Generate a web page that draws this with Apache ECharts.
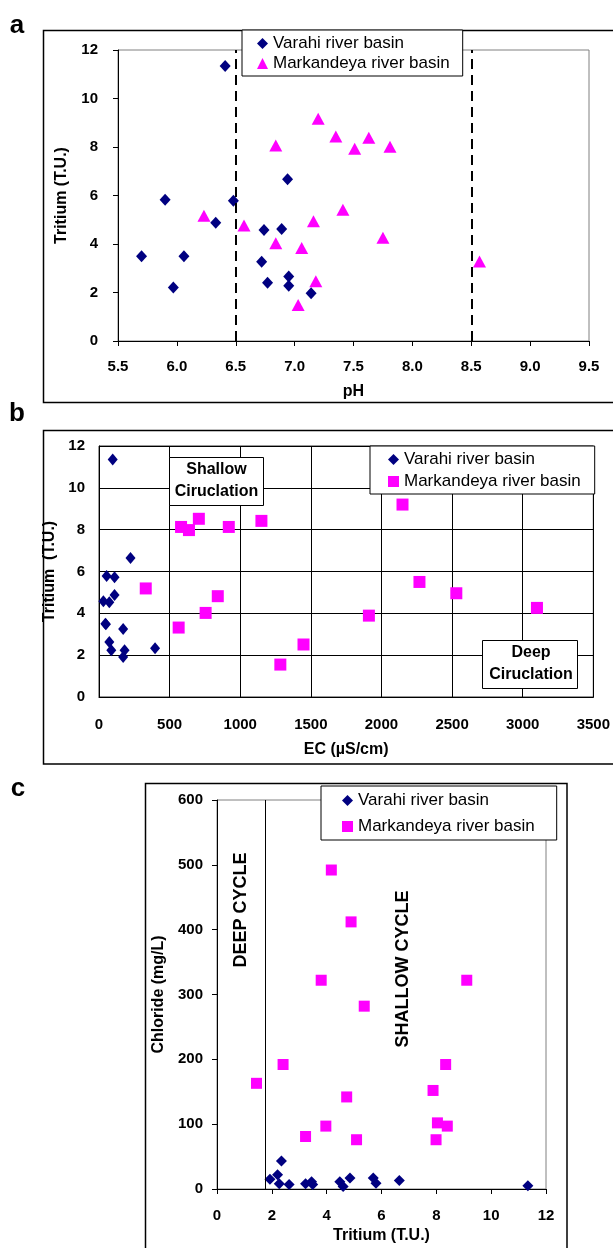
<!DOCTYPE html>
<html>
<head>
<meta charset="utf-8">
<script src="https://cdn.jsdelivr.net/npm/echarts@6/dist/echarts.min.js"></script>
<style>
html,body{margin:0;padding:0;background:#fff;}
#chart{width:613px;height:1248px;}
</style>
</head>
<body>
<div id="chart"></div>
<script>
// ---------- names ----------
const seriesNames = ['Varahi river basin', 'Markandeya river basin'];
const panelLabels = ['a', 'b', 'c'];

// ---------- panel a : pH vs Tritium ----------
const aVarahiPH = [5.90, 6.48, 6.33, 5.70, 6.06, 5.97, 6.74, 6.89, 6.72, 6.77, 6.95, 6.95, 7.14, 6.94, 6.41];
const aVarahiT  = [5.82, 5.78, 4.88, 3.50, 3.50, 2.21, 4.58, 4.62, 3.27, 2.40, 2.66, 2.28, 1.97, 6.67, 11.34];
const aMarkPH   = [6.23, 6.57, 6.84, 7.06, 7.16, 7.41, 7.75, 7.18, 7.03, 8.57, 6.84, 7.20, 7.35, 7.51, 7.63, 7.81];
const aMarkT    = [5.16, 4.76, 4.03, 3.83, 4.94, 5.41, 4.26, 2.46, 1.48, 3.28, 8.06, 9.17, 8.43, 7.93, 8.38, 8.01];
const phLimits  = [6.5, 8.5];
const aXRange   = [5.5, 9.5, 0.5];   // min, max, interval
const aYRange   = [0, 12, 2];

// ---------- panel b : EC vs Tritium ----------
const bVarahiEC = [97, 223, 54, 110, 31, 73, 110, 49, 45, 171, 73, 87, 181, 171, 397];
const bVarahiT  = [11.36, 6.64, 5.78, 5.73, 4.58, 4.53, 4.88, 3.48, 3.50, 3.25, 2.63, 2.23, 2.23, 1.91, 2.33];
const bMarkEC   = [331, 581, 637, 707, 919, 1150, 564, 755, 841, 1284, 1448, 2149, 2269, 2530, 3101, 1911];
const bMarkT    = [5.19, 8.13, 7.98, 8.52, 8.13, 8.42, 3.32, 4.02, 4.82, 1.55, 2.51, 9.20, 5.50, 4.96, 4.26, 3.89];
const bXRange   = [0, 3500, 500];
const bYRange   = [0, 12, 2];
const bNotes    = ['Shallow\nCiruclation', 'Deep\nCiruclation'];

// ---------- panel c : Tritium vs Chloride ----------
const cVarahiT  = [1.93, 2.21, 2.27, 2.35, 2.63, 3.23, 3.45, 3.49, 4.48, 4.60, 4.85, 5.70, 5.80, 6.65, 11.34];
const cVarahiCl = [15, 22, 8, 43, 7, 8, 11, 7, 11, 4, 17, 17, 9, 13, 5];
const cMarkT    = [1.44, 2.41, 3.23, 3.97, 4.73, 5.09, 5.37, 7.88, 8.04, 7.99, 8.34, 8.40, 4.17, 4.89, 3.80, 9.11];
const cMarkCl   = [163, 192, 81, 97, 142, 76, 282, 152, 102, 76, 192, 97, 492, 412, 322, 322];
const deepCycleLimit = [1.75];
const cXRange   = [0, 12, 2];
const cYRange   = [0, 600, 100];
const cNotes    = ['DEEP CYCLE', 'SHALLOW CYCLE'];

const axisTitles = {
  aX: 'pH', aY: 'Tritium (T.U.)',
  bX: 'EC (µS/cm)', bY: 'Tritium  (T.U.)',
  cX: 'Tritium (T.U.)', cY: 'Chloride (mg/L)'
};

// ---------- styles ----------
const FONT = "'Liberation Sans', Arial, sans-serif";
const NAVY = '#000080';
const MAGENTA = '#FF00FF';

function zip(xs, ys) { return xs.map((x, i) => [x, ys[i]]); }

function labelStyle(margin, formatter) {
  const s = { fontFamily: FONT, fontWeight: 'bold', fontSize: 15, color: '#000', margin: margin };
  if (formatter) s.formatter = formatter;
  return s;
}

function makeAxis(gridIndex, range, name, gap, margin, opts) {
  return Object.assign({
    type: 'value', gridIndex: gridIndex,
    min: range[0], max: range[1], interval: range[2],
    name: name, nameLocation: 'middle', nameGap: gap,
    nameTextStyle: { fontFamily: FONT, fontWeight: 'bold', fontSize: 16, color: '#000' },
    axisLine: { show: true, onZero: false, lineStyle: { color: '#000', width: 1 } },
    axisTick: { show: true, inside: false, length: 5, lineStyle: { color: '#000' } },
    axisLabel: labelStyle(margin, v => String(v)),
    splitLine: { show: false }
  }, opts || {});
}

const legendText = { fontFamily: FONT, fontSize: 17, color: '#000', lineHeight: 17 };

function makeLegend(left, top, gap, padding, icon2) {
  return {
    orient: 'vertical', left: left, top: top,
    itemGap: gap, itemWidth: 11, itemHeight: 11,
    padding: padding,
    borderColor: '#000', borderWidth: 1, backgroundColor: '#fff',
    textStyle: legendText, selectedMode: false,
    data: [{ name: seriesNames[0], icon: 'diamond' }, { name: seriesNames[1], icon: icon2 }]
  };
}

const bGridLines = { show: true, lineStyle: { color: '#000', width: 1 } };

const option = {
  animation: false,
  backgroundColor: '#fff',
  grid: [
    { left: 118, top: 50, width: 471, height: 291, show: true, borderColor: '#808080', borderWidth: 1, backgroundColor: 'transparent' },
    { left: 99, top: 446, width: 496, height: 251, show: true, borderColor: '#333', borderWidth: 1, backgroundColor: 'transparent' },
    { left: 217, top: 800, width: 329, height: 389, show: true, borderColor: '#808080', borderWidth: 1, backgroundColor: 'transparent' }
  ],
  xAxis: [
    makeAxis(0, aXRange, axisTitles.aX, 43, 18, { axisLabel: labelStyle(18, v => v.toFixed(1)) }),
    makeAxis(1, bXRange, axisTitles.bX, 45, 20, { axisTick: { show: false }, splitLine: bGridLines }),
    makeAxis(2, cXRange, axisTitles.cX, 39, 19)
  ],
  yAxis: [
    makeAxis(0, aYRange, axisTitles.aY, 48, 20),
    makeAxis(1, bYRange, axisTitles.bY, 32, 14, { axisTick: { show: false }, splitLine: bGridLines }),
    makeAxis(2, cYRange, axisTitles.cY, 50, 14)
  ],
  legend: [
    makeLegend(242, 30, 3, [5, 13, 4, 15], 'triangle'),
    makeLegend(370, 446, 5, [5, 14, 4, 18], 'rect'),
    makeLegend(321, 786, 9, [6, 22, 5, 21], 'rect')
  ],
  series: [
    { name: seriesNames[0], type: 'scatter', xAxisIndex: 0, yAxisIndex: 0, symbol: 'diamond', symbolSize: [11, 12],
      itemStyle: { color: NAVY, opacity: 1 }, data: zip(aVarahiPH, aVarahiT), z: 3,
      markLine: { silent: true, symbol: ['none', 'none'], label: { show: false },
        lineStyle: { type: [10, 6], color: '#000', width: 2 },
        data: phLimits.map(v => ({ xAxis: v })) } },
    { name: seriesNames[1], type: 'scatter', xAxisIndex: 0, yAxisIndex: 0, symbol: 'triangle', symbolSize: [13, 12],
      itemStyle: { color: MAGENTA, opacity: 1 }, data: zip(aMarkPH, aMarkT) },
    { name: seriesNames[0], type: 'scatter', xAxisIndex: 1, yAxisIndex: 1, symbol: 'diamond', symbolSize: [10, 12],
      itemStyle: { color: NAVY, opacity: 1 }, data: zip(bVarahiEC, bVarahiT), z: 3 },
    { name: seriesNames[1], type: 'scatter', xAxisIndex: 1, yAxisIndex: 1, symbol: 'rect', symbolSize: [12, 12],
      itemStyle: { color: MAGENTA, opacity: 1 }, data: zip(bMarkEC, bMarkT) },
    { name: seriesNames[0], type: 'scatter', xAxisIndex: 2, yAxisIndex: 2, symbol: 'diamond', symbolSize: [11, 11],
      itemStyle: { color: NAVY, opacity: 1 }, data: zip(cVarahiT, cVarahiCl), z: 3,
      markLine: { silent: true, symbol: ['none', 'none'], label: { show: false },
        lineStyle: { type: 'solid', color: '#000', width: 1 },
        data: deepCycleLimit.map(v => ({ xAxis: v })) } },
    { name: seriesNames[1], type: 'scatter', xAxisIndex: 2, yAxisIndex: 2, symbol: 'rect', symbolSize: [11, 11],
      itemStyle: { color: MAGENTA, opacity: 1 }, data: zip(cMarkT, cMarkCl) }
  ],
  graphic: [
    // outer frames
    { type: 'rect', z: -1, shape: { x: 43.5, y: 30.5, width: 620, height: 372 }, style: { fill: 'none', stroke: '#000', lineWidth: 1.5 } },
    { type: 'rect', z: -1, shape: { x: 43.5, y: 430.5, width: 620, height: 333.5 }, style: { fill: 'none', stroke: '#000', lineWidth: 1.5 } },
    { type: 'rect', z: -1, shape: { x: 145.5, y: 783.5, width: 421.5, height: 500 }, style: { fill: 'none', stroke: '#000', lineWidth: 1.5 } },
    // panel letters
    { type: 'text', x: 17, y: 26, style: { text: panelLabels[0], font: "bold 26px " + FONT, fill: '#000', align: 'center', verticalAlign: 'middle' } },
    { type: 'text', x: 17, y: 414, style: { text: panelLabels[1], font: "bold 26px " + FONT, fill: '#000', align: 'center', verticalAlign: 'middle' } },
    { type: 'text', x: 18, y: 789, style: { text: panelLabels[2], font: "bold 26px " + FONT, fill: '#000', align: 'center', verticalAlign: 'middle' } },
    // panel b notes
    { type: 'rect', z: 50, shape: { x: 169.5, y: 457.5, width: 94, height: 48 }, style: { fill: '#fff', stroke: '#000', lineWidth: 1 } },
    { type: 'text', z: 51, x: 216.5, y: 481, style: { text: bNotes[0], font: "bold 16px " + FONT, lineHeight: 22, fill: '#000', align: 'center', verticalAlign: 'middle' } },
    { type: 'rect', z: 50, shape: { x: 482.5, y: 640.5, width: 95, height: 48 }, style: { fill: '#fff', stroke: '#000', lineWidth: 1 } },
    { type: 'text', z: 51, x: 531, y: 664, style: { text: bNotes[1], font: "bold 16px " + FONT, lineHeight: 22, fill: '#000', align: 'center', verticalAlign: 'middle' } },
    // panel c notes
    { type: 'text', z: 51, x: 241, y: 910, rotation: Math.PI / 2, style: { text: cNotes[0], font: "bold 18px " + FONT, fill: '#000', align: 'center', verticalAlign: 'middle' } },
    { type: 'text', z: 51, x: 403.5, y: 969, rotation: Math.PI / 2, style: { text: cNotes[1], font: "bold 18px " + FONT, fill: '#000', align: 'center', verticalAlign: 'middle' } }
  ]
};

const chart = echarts.init(document.getElementById('chart'), null, { renderer: 'canvas' });
chart.setOption(option);
</script>
</body>
</html>
